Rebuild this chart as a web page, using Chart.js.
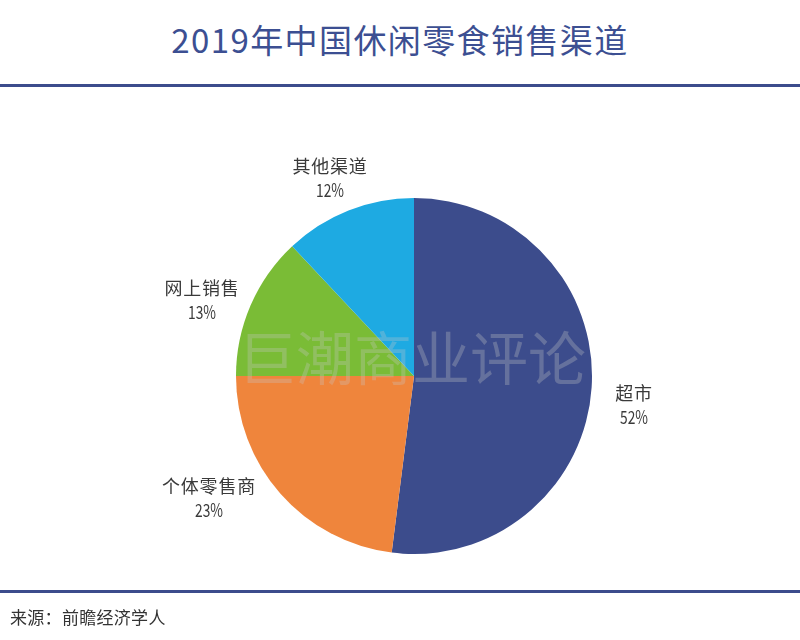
<!DOCTYPE html>
<html>
<head>
<meta charset="utf-8">
<script src="https://cdn.jsdelivr.net/npm/chart.js@4"></script>
<style>
html, body { margin: 0; padding: 0; background: #fff; }
#wrap { position: relative; width: 800px; height: 640px; overflow: hidden; font-family: "Noto Sans CJK SC", sans-serif; }
#title { position: absolute; left: 0; top: 15px; width: 800px; text-align: center; font-size: 33px; line-height: 48px; letter-spacing: 1.4px; color: #3c4f92; }
.rule { position: absolute; left: 0; width: 800px; height: 3px; background: #3c4c8c; }
#source { position: absolute; left: 10px; top: 605px; font-size: 17px; line-height: 24px; letter-spacing: 0.3px; color: #333; }
#mark { position: absolute; left: 238px; top: 320px; font-size: 58px; line-height: 70px; color: rgba(200,200,200,0.3); white-space: nowrap; }
canvas { position: absolute; left: 0; top: 0; }
</style>
</head>
<body>
<div id="wrap">
	<div id="title">2019年中国休闲零食销售渠道</div>
	<div class="rule" style="top:84px"></div>
	<canvas id="pie" width="800" height="640"></canvas>
	<div id="mark">巨潮商业评论</div>
	<div class="rule" style="top:590px"></div>
	<div id="source">来源：前瞻经济学人</div>
</div>
<script>
const categories = ['超市', '个体零售商', '网上销售', '其他渠道'];
const shares = [52, 23, 13, 12];
const sliceColors = ['#3c4c8c', '#ef853c', '#7abc36', '#1eaae2'];
// label centres on the page, one per slice
const labelSpots = [[634, 405], [209, 498], [202, 300], [330, 178]];

const labelPlugin = {
	id: 'sliceLabels',
	afterDraw(chart) {
		const ctx = chart.ctx;
		ctx.save();
		ctx.fillStyle = '#3a3a3a';
		ctx.textAlign = 'center';
		ctx.textBaseline = 'middle';
		ctx.font = '18px "Noto Sans CJK SC"';
		categories.forEach((name, i) => {
			const [x, y] = labelSpots[i];
			ctx.letterSpacing = '0.8px';
			ctx.fillText(name, x, y - 12);
			ctx.letterSpacing = '0px';
			// percent figures are condensed in the original
			ctx.fillText(shares[i] + '%', x, y + 12, 28);
		});
		ctx.restore();
	}
};

new Chart(document.getElementById('pie'), {
	type: 'pie',
	data: {
		labels: categories,
		datasets: [{
			data: shares,
			backgroundColor: sliceColors,
			borderWidth: 0
		}]
	},
	options: {
		responsive: false,
		animation: false,
		radius: 178,
		layout: { padding: { left: 28, top: 170, bottom: 58 } },
		plugins: { legend: { display: false }, tooltip: { enabled: false } }
	},
	plugins: [labelPlugin]
});
</script>
</body>
</html>
